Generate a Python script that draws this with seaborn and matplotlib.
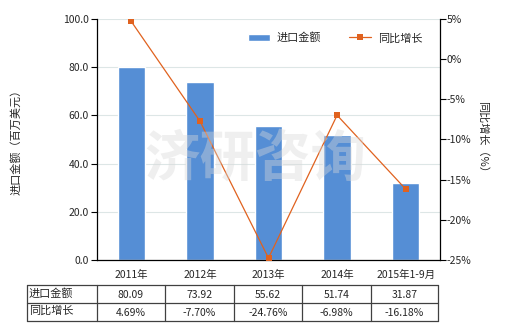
import matplotlib
matplotlib.use("Agg")
import matplotlib.pyplot as plt
import seaborn as sns
import pandas as pd
from matplotlib.ticker import FuncFormatter

categories = ["2011年", "2012年", "2013年", "2014年", "2015年1-9月"]
import_values = [80.09, 73.92, 55.62, 51.74, 31.87]
growth_pct = [4.69, -7.70, -24.76, -6.98, -16.18]
row_labels = ["进口金额", "同比增长"]

sns.set_theme(style="white")
plt.rcParams['font.family'] = ['Noto Sans CJK SC', 'DejaVu Sans']
plt.rcParams['axes.unicode_minus'] = False

BAR = "#558ED5"
LINE = "#E0621F"
FS = 7.5

df = pd.DataFrame({"cat": categories, "val": import_values, "g": growth_pct})

fig = plt.figure(figsize=(5.2, 3.3), dpi=100)
ax = fig.add_axes([97/520, 1-260/330, (440-97)/520, (260-19)/330])

sns.barplot(data=df, x="cat", y="val", color=BAR, width=0.4, ax=ax,
            saturation=1, label="进口金额", zorder=2)
ax.set_ylim(0, 100)
ax.set_xlim(-0.5, 4.5)
ax.set_yticks([0, 20, 40, 60, 80, 100])
ax.yaxis.set_major_formatter(FuncFormatter(lambda v, p: f"{v:.1f}"))
ax.grid(axis="y", color="#dde6e6", lw=0.8, zorder=0)
ax.set_xlabel("")
ax.set_ylabel("进口金额（百万美元）", fontsize=FS + 0.5, labelpad=30)
for s in ["top", "right"]:
    ax.spines[s].set_visible(False)
for s in ["left", "bottom"]:
    ax.spines[s].set_color("black")
    ax.spines[s].set_linewidth(0.9)
ax.tick_params(axis="y", left=True, length=4, width=0.8, labelsize=FS, pad=2, color="black")
ax.tick_params(axis="x", bottom=False, labelsize=FS, pad=1)

ax2 = ax.twinx()
sns.lineplot(data=df, x="cat", y="g", color=LINE, lw=0.9, marker="s",
             markersize=4.5, markeredgewidth=0, ax=ax2, label="同比增长", zorder=3)
ax2.set_ylim(-25, 5)
ax2.set_yticks([5, 0, -5, -10, -15, -20, -25])
ax2.yaxis.set_major_formatter(FuncFormatter(lambda v, p: f"{v:.0f}%"))
ax2.set_ylabel("同比增长（%）", fontsize=FS + 0.5, rotation=270, labelpad=12)
for s in ["top", "left", "bottom"]:
    ax2.spines[s].set_visible(False)
ax2.spines["right"].set_color("black")
ax2.spines["right"].set_linewidth(0.9)
ax2.tick_params(axis="y", right=True, length=4, width=0.8, labelsize=FS, pad=1, color="black")
ax2.set_xlabel("")
ax2.grid(False)
if ax2.get_legend():
    ax2.get_legend().remove()

h1, l1 = ax.get_legend_handles_labels()
h2, l2 = ax2.get_legend_handles_labels()
fig.legend(h1 + h2, l1 + l2, loc="center", bbox_to_anchor=(335/520, 1-38/330),
           ncol=2, frameon=False, fontsize=FS + 0.5, handlelength=2.0,
           columnspacing=2.5, handletextpad=0.6)
if ax.get_legend():
    ax.get_legend().remove()

# watermark
fig.text(255/520, 1-160/330, "济研咨询", fontsize=40, color="#d8d8d8", alpha=0.4,
         ha="center", va="center", zorder=10, fontweight="bold")

# table
tax = fig.add_axes([27/520, 1-321/330, (438-27)/520, (321-285)/330])
tax.set_xlim(27, 438)
tax.set_ylim(0, 2)
tax.axis("off")
xs = [27, 97, 165, 234, 302, 371, 438]
for x in xs:
    tax.plot([x, x], [0, 2], color="#404040", lw=0.9, clip_on=False)
for y in [0, 1, 2]:
    tax.plot([27, 438], [y, y], color="#404040", lw=0.9, clip_on=False)
rows = [[f"{v:.2f}" for v in import_values], [f"{v:.2f}%" for v in growth_pct]]
for r, (lab, vals) in enumerate(zip(row_labels, rows)):
    yc = 1.5 - r
    tax.text(29, yc + 0.05, lab, fontsize=FS + 0.5, ha="left", va="center")
    for i, v in enumerate(vals):
        tax.text((xs[i + 1] + xs[i + 2]) / 2, yc - 0.05, v, fontsize=FS,
                 ha="center", va="center")

fig.savefig("out.png", dpi=100)
